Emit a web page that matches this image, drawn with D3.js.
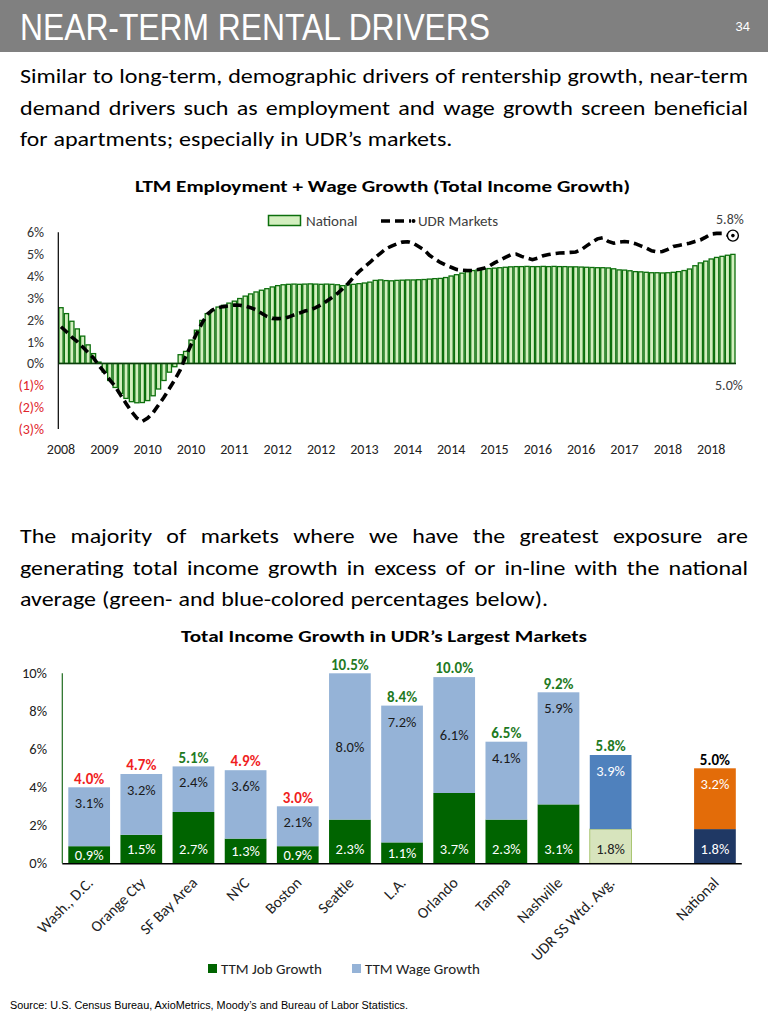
<!DOCTYPE html>
<html><head><meta charset="utf-8">
<script src="https://cdn.jsdelivr.net/npm/d3@7"></script>
<style>
html,body{margin:0;padding:0;background:#fff;}
svg{display:block;}
text{font-family:Carlito,Calibri,Lato,sans-serif;}
</style></head><body>
<svg id="c" width="768" height="1018"></svg>
<script>
// ---------- DATA ----------
const pageTitle = "NEAR-TERM RENTAL DRIVERS";
const pageNumber = "34";
const para1 = ["Similar to long-term, demographic drivers of rentership growth, near-term",
               "demand drivers such as employment and wage growth screen beneficial",
               "for apartments; especially in UDR’s markets."];
const para2 = ["The majority of markets where we have the greatest exposure are",
               "generating total income growth in excess of or in-line with the national",
               "average (green- and blue-colored percentages below)."];
const chart1Title = "LTM Employment + Wage Growth (Total Income Growth)";
const chart2Title = "Total Income Growth in UDR’s Largest Markets";
const sourceText = "Source:  U.S. Census Bureau, AxioMetrics, Moody’s and Bureau of Labor Statistics.";

// monthly LTM total income growth (%), National bars
const national = [
 2.55, 2.28, 1.93, 1.58, 1.25, 0.85, 0.45, 0.06, -0.4, -0.78,
 -1.1, -1.37, -1.6, -1.75, -1.8, -1.79, -1.7, -1.48, -1.17, -0.78,
 -0.4, -0.15, 0.4, 0.55, 1.07, 1.52, 1.97, 2.28, 2.44, 2.58,
 2.66, 2.76, 2.85, 2.97, 3.08, 3.18, 3.27, 3.35, 3.42, 3.5,
 3.56, 3.6, 3.62, 3.63, 3.62, 3.63, 3.64, 3.63, 3.62, 3.63,
 3.62, 3.6, 3.56, 3.6, 3.62, 3.65, 3.68, 3.72, 3.8, 3.82,
 3.79, 3.78, 3.8, 3.81, 3.82, 3.82, 3.83, 3.84, 3.86, 3.88,
 3.89, 3.93, 4.0, 4.06, 4.13, 4.2, 4.25, 4.28, 4.32, 4.34,
 4.36, 4.38, 4.4, 4.42, 4.43, 4.43, 4.44, 4.43, 4.43, 4.44,
 4.43, 4.44, 4.43, 4.43, 4.42, 4.42, 4.41, 4.4, 4.39, 4.38,
 4.38, 4.37, 4.33, 4.28, 4.27, 4.24, 4.2, 4.19, 4.17, 4.15,
 4.15, 4.14, 4.15, 4.17, 4.2, 4.25, 4.32, 4.47, 4.6, 4.68,
 4.78, 4.85, 4.9, 4.95, 4.99];
// monthly LTM total income growth (%), UDR Markets line
const udrMarkets = [
 1.68, 1.45, 1.2, 1.0, 0.75, 0.5, 0.25, -0.1, -0.4, -0.75,
 -1.05, -1.45, -1.83, -2.2, -2.5, -2.65, -2.5, -2.25, -1.9, -1.55,
 -1.15, -0.75, -0.3, 0.3, 0.85, 1.35, 1.83, 2.25, 2.45, 2.55,
 2.6, 2.63, 2.67, 2.66, 2.62, 2.55, 2.45, 2.3, 2.15, 2.06,
 2.05, 2.06, 2.12, 2.22, 2.3, 2.4, 2.45, 2.55, 2.68, 2.85,
 3.02, 3.2, 3.42, 3.66, 3.95, 4.2, 4.42, 4.62, 4.85, 5.05,
 5.25, 5.37, 5.47, 5.55, 5.57, 5.5, 5.35, 5.2, 4.95, 4.78,
 4.62, 4.5, 4.4, 4.3, 4.27, 4.25, 4.25, 4.3, 4.35, 4.45,
 4.6, 4.72, 4.85, 4.97, 5.0, 4.9, 4.82, 4.75, 4.82, 4.93,
 4.98, 5.02, 5.05, 5.06, 5.08, 5.1, 5.2, 5.38, 5.55, 5.7,
 5.75, 5.58, 5.5, 5.55, 5.58, 5.55, 5.48, 5.38, 5.28, 5.15,
 5.1, 5.12, 5.22, 5.35, 5.4, 5.45, 5.5, 5.58, 5.65, 5.78,
 5.92, 5.95, 5.95, 5.88, 5.85];
const yearLabels = ["2008","2009","2010","2010","2011","2012","2012","2013","2014","2014","2015","2016","2016","2017","2018","2018"];
const yearTickEvery = 8;
const chart1YTicks = [6,5,4,3,2,1,0,-1,-2,-3];
const udrEndLabel = "5.8%";
const nationalEndLabel = "5.0%";

const markets = ["Wash., D.C.","Orange Cty","SF Bay Area","NYC","Boston","Seattle","L.A.","Orlando","Tampa","Nashville","UDR SS Wtd. Avg.","National"];
const jobGrowth  = [0.9, 1.5, 2.7, 1.3, 0.9, 2.3, 1.1, 3.7, 2.3, 3.1, 1.8, 1.8];
const wageGrowth = [3.1, 3.2, 2.4, 3.6, 2.1, 8.0, 7.2, 6.1, 4.1, 5.9, 3.9, 3.2];
const totalGrowth = [4.0, 4.7, 5.1, 4.9, 3.0, 10.5, 8.4, 10.0, 6.5, 9.2, 5.8, 5.0];
const chart2YTicks = [0,2,4,6,8,10];
const legend2 = ["TTM Job Growth","TTM Wage Growth"];

// ---------- DRAW ----------
const svg = d3.select("#c");
const narrow = "'Liberation Sans Narrow','Arial Narrow','Liberation Sans',Arial,sans-serif";

// header
svg.append("rect").attr("x",0).attr("y",0).attr("width",768).attr("height",52).attr("fill","#808080");
svg.append("text").text(pageTitle).attr("x",20).attr("y",40)
  .style("font-family",narrow).attr("font-size",36).attr("fill","#fff")
  .attr("textLength",470).attr("lengthAdjust","spacingAndGlyphs");
svg.append("text").text(pageNumber).attr("x",750).attr("y",31).attr("text-anchor","end")
  .style("font-family",narrow).attr("font-size",13).attr("fill","#fff");

// justified paragraph: words stretched by a common factor, extra space between words
function paragraph(lines, y0, lastEnd){
  const fs = 21, left = 20, width = 728, minGap = 6;
  const built = lines.map((l,i)=>{
    const y = y0 + i*31.5;
    const words = l.split(" ");
    const t = svg.append("text").attr("y",y).attr("font-size",fs).attr("fill","#000");
    const spans = words.map(w => t.append("tspan").text(w));
    const widths = spans.map(s => s.node().getComputedTextLength());
    return {y, words, spans, widths, W:d3.sum(widths)};
  });
  let s = d3.min(built.slice(0,-1), b => (width - (b.words.length-1)*minGap)/b.W);
  if(lastEnd){
    const lb = built[built.length-1];
    s = Math.min(s, (lastEnd - left - (lb.words.length-1)*minGap)/lb.W);
  }
  built.forEach((b,i)=>{
    const last = i === built.length-1;
    const gap = last ? minGap : (width - b.W*s)/(b.words.length-1);
    let x = left;
    b.spans.forEach((sp,k)=>{
      sp.attr("x",x).attr("y",b.y).attr("textLength",b.widths[k]*s).attr("lengthAdjust","spacingAndGlyphs");
      x += b.widths[k]*s + gap;
    });
  });
}
paragraph(para1, 83);
paragraph(para2, 543, 548);

// ---------- chart 1 ----------
svg.append("text").text(chart1Title).attr("x",135).attr("y",192)
  .attr("font-size",16.5).attr("font-weight","bold").attr("fill","#000")
  .attr("textLength",495).attr("lengthAdjust","spacingAndGlyphs");

const x1 = d3.scaleBand().domain(d3.range(national.length)).range([58.3,735.6]).padding(0);
const y1 = d3.scaleLinear().domain([-3,6]).range([429.0,232.3]);
const bw = x1.bandwidth();

svg.append("g").selectAll("rect").data(national).join("rect")
  .attr("x",(d,i)=>x1(i)+0.6).attr("width",bw-1.2)
  .attr("y",d=>y1(Math.max(0,d))).attr("height",d=>Math.abs(y1(d)-y1(0)))
  .attr("fill","#d3efbf").attr("stroke","#0c6f0c").attr("stroke-width",1.3);

// axes lines
svg.append("line").attr("x1",58.3).attr("x2",58.3).attr("y1",y1(6)).attr("y2",y1(-3)).attr("stroke","#000").attr("stroke-width",1.2);
svg.append("line").attr("x1",58.3).attr("x2",736).attr("y1",y1(0)).attr("y2",y1(0)).attr("stroke","#0a3d0a").attr("stroke-width",1.6);

// y axis labels
const ya1 = svg.append("g").attr("transform","translate(44,0)")
  .call(d3.axisLeft(y1).tickValues(chart1YTicks).tickSize(0).tickPadding(0)
    .tickFormat(v=> v<0 ? "("+(-v)+")%" : v+"%"));
ya1.select(".domain").remove();
ya1.selectAll("text").attr("font-size",14).style("font-family","Carlito,Calibri,Lato,sans-serif")
  .attr("fill",v=> v<0 ? "#e0262b" : "#333");

// x axis labels
const xa1 = svg.append("g").attr("transform","translate(0,444)")
  .call(d3.axisBottom(x1).tickValues(d3.range(0,national.length,yearTickEvery)).tickSize(0).tickPadding(0)
    .tickFormat((k)=>yearLabels[k/yearTickEvery]));
xa1.select(".domain").remove();
xa1.selectAll("text").attr("font-size",14).style("font-family","Carlito,Calibri,Lato,sans-serif").attr("fill","#222");

// UDR line
const line = d3.line().x((d,i)=>x1(i)+bw/2).y(d=>y1(d));
svg.append("path").datum(udrMarkets).attr("d",line).attr("fill","none")
  .attr("stroke","#000").attr("stroke-width",3.6).attr("stroke-dasharray","9,5");
const lastI = udrMarkets.length-1;
const lx = x1(lastI)+bw/2, ly = y1(udrMarkets[lastI]);
svg.append("circle").attr("cx",lx).attr("cy",ly).attr("r",5.5).attr("fill","#fff").attr("stroke","#000").attr("stroke-width",1.4);
svg.append("circle").attr("cx",lx).attr("cy",ly).attr("r",1.8).attr("fill","#000");
svg.append("text").text(udrEndLabel).attr("x",lx-3).attr("y",ly-12).attr("text-anchor","middle")
  .attr("font-size",14).attr("fill","#404040");
svg.append("text").text(nationalEndLabel).attr("x",lx-4).attr("y",y1(0)+27).attr("text-anchor","middle")
  .attr("font-size",14).attr("fill","#404040");

// legend 1
svg.append("rect").attr("x",268.5).attr("y",215.5).attr("width",32).attr("height",10)
  .attr("fill","#d3efbf").attr("stroke","#0c6f0c").attr("stroke-width",1.5);
svg.append("text").text("National").attr("x",306).attr("y",225.5).attr("font-size",15).attr("fill","#404040");
svg.append("line").attr("x1",381).attr("x2",411).attr("y1",221).attr("y2",221)
  .attr("stroke","#000").attr("stroke-width",3.6).attr("stroke-dasharray","9,5");
svg.append("circle").attr("cx",413.5).attr("cy",221).attr("r",2).attr("fill","#000");
svg.append("text").text("UDR Markets").attr("x",418).attr("y",225.5).attr("font-size",15).attr("fill","#404040");

// ---------- chart 2 ----------
svg.append("text").text(chart2Title).attr("x",181).attr("y",642)
  .attr("font-size",16.5).attr("font-weight","bold").attr("fill","#000")
  .attr("textLength",406).attr("lengthAdjust","spacingAndGlyphs");

const n = markets.length;
const domain2 = markets.slice(0,n-1).concat([" "], markets.slice(n-1));
const x2 = d3.scaleBand().domain(domain2).range([62.3,741.8]).paddingInner(0.2).paddingOuter(0.115);
const y2 = d3.scaleLinear().domain([0,10]).range([863.3,673.3]).clamp(true);
const bw2 = x2.bandwidth();

const nationalTotal = totalGrowth[n-1];
const rows = markets.map((m,i)=>({m, job:jobGrowth[i], wage:wageGrowth[i], total:totalGrowth[i],
  kind: i===n-1 ? "nat" : (i===n-2 ? "udr" : "mkt")}));
const jobFill = {mkt:"#006400", udr:"#d7e4bd", nat:"#1f3864"};
const wageFill = {mkt:"#95b3d7", udr:"#4f81bd", nat:"#e36c09"};
const jobText = {mkt:"#fff", udr:"#222", nat:"#fff"};
const wageText = {mkt:"#1a1a1a", udr:"#fff", nat:"#fff"};
const centeredWage = new Set(["Seattle","Orlando"]);

const g2 = svg.append("g");
g2.selectAll("rect.job").data(rows).join("rect").attr("class","job")
  .attr("x",d=>x2(d.m)).attr("width",bw2)
  .attr("y",d=>y2(d.job)).attr("height",d=>y2(0)-y2(d.job))
  .attr("fill",d=>jobFill[d.kind]).attr("stroke",d=>d.kind==="udr"?"#9bbb59":"none").attr("stroke-width",0.8);
g2.selectAll("rect.wage").data(rows).join("rect").attr("class","wage")
  .attr("x",d=>x2(d.m)).attr("width",bw2)
  .attr("y",d=>y2(d.job+d.wage)).attr("height",d=>y2(d.job)-y2(d.job+d.wage))
  .attr("fill",d=>wageFill[d.kind]);

// labels
g2.selectAll("text.jl").data(rows).join("text").attr("class","jl")
  .attr("x",d=>x2(d.m)+bw2/2)
  .attr("y",d=>Math.max((y2(0)+y2(d.job))/2, y2(0)-14)).attr("dy","0.35em")
  .attr("text-anchor","middle").attr("font-size",14.5).attr("fill",d=>jobText[d.kind])
  .text(d=>d.job.toFixed(1)+"%");
g2.selectAll("text.wl").data(rows).join("text").attr("class","wl")
  .attr("x",d=>x2(d.m)+bw2/2)
  .attr("y",d=>{const t=y2(d.job+d.wage), b=y2(d.job); return centeredWage.has(d.m)?(t+b)/2:t+16;}).attr("dy","0.35em")
  .attr("text-anchor","middle").attr("font-size",14.5).attr("fill",d=>wageText[d.kind])
  .text(d=>d.wage.toFixed(1)+"%");
g2.selectAll("text.tl").data(rows).join("text").attr("class","tl")
  .attr("x",d=>x2(d.m)+bw2/2)
  .attr("y",d=>y2(d.job+d.wage)-9).attr("dy","0.35em")
  .attr("text-anchor","middle").attr("font-size",15).attr("font-weight","bold")
  .attr("fill",d=> d.kind==="nat" ? "#000" : (d.total < nationalTotal ? "#f01e1e" : "#1f7a1f"))
  .text(d=>d.total.toFixed(1)+"%");

// axes
svg.append("line").attr("x1",62.3).attr("x2",62.3).attr("y1",673.3).attr("y2",863.3).attr("stroke","#1f6b1f").attr("stroke-width",1.2);
svg.append("line").attr("x1",62.3).attr("x2",741.8).attr("y1",863.8).attr("y2",863.8).attr("stroke","#000").attr("stroke-width",1.5);
const ya2 = svg.append("g").attr("transform","translate(47,0)")
  .call(d3.axisLeft(y2).tickValues(chart2YTicks).tickSize(0).tickPadding(0).tickFormat(v=>v+"%"));
ya2.select(".domain").remove();
ya2.selectAll("text").attr("font-size",14.5).style("font-family","Carlito,Calibri,Lato,sans-serif").attr("fill","#222");

const xa2 = svg.append("g").attr("transform","translate(0,864)")
  .call(d3.axisBottom(x2).tickSize(0).tickPadding(0));
xa2.select(".domain").remove();
xa2.selectAll("text").attr("font-size",15.5).style("font-family","Carlito,Calibri,Lato,sans-serif").attr("fill","#222")
  .attr("text-anchor","end").attr("dy","0.35em").attr("y",0)
  .attr("transform","translate(1,16) rotate(-45)");

// legend 2
svg.append("rect").attr("x",208).attr("y",964).attr("width",9).attr("height",9).attr("fill","#006400");
svg.append("text").text(legend2[0]).attr("x",221).attr("y",973.5).attr("font-size",15).attr("fill","#222");
svg.append("rect").attr("x",352).attr("y",964).attr("width",9).attr("height",9).attr("fill","#95b3d7");
svg.append("text").text(legend2[1]).attr("x",365).attr("y",973.5).attr("font-size",15).attr("fill","#222");

// source
svg.append("text").text(sourceText).attr("x",10).attr("y",1009)
  .style("font-family",narrow).attr("font-size",10).attr("fill","#000")
  .attr("textLength",398).attr("lengthAdjust","spacingAndGlyphs");
</script></body></html>
